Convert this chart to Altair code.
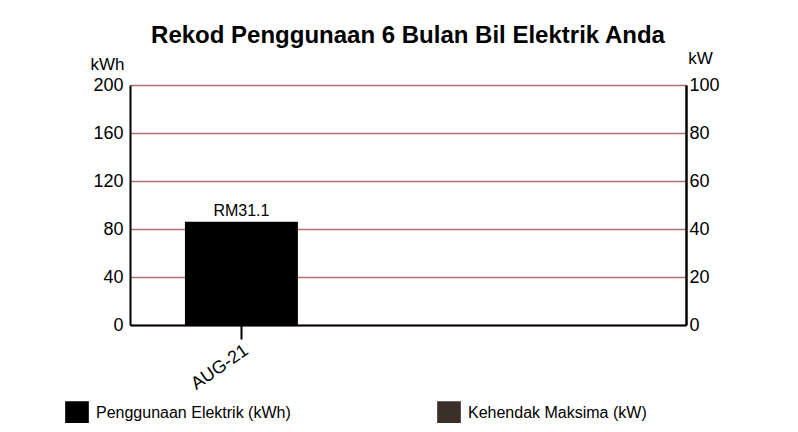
import altair as alt
import pandas as pd

# ---- data ----
months = ["AUG-21"]
kwh_values = [86]
bill_labels = ["RM31.1"]
kw_values = [0]
series_names = ["Penggunaan Elektrik (kWh)", "Kehendak Maksima (kW)"]
series_colors = ["#000000", "#3a3029"]
kwh_ticks = [0, 40, 80, 120, 160, 200]
kw_ticks = [0, 20, 40, 60, 80, 100]

df = pd.DataFrame({"month": months, "kwh": kwh_values, "bill": bill_labels, "kw": kw_values})

FONT = "Liberation Sans"

x_enc = alt.X(
    "month:N", title=None, sort=months,
    scale=alt.Scale(domain=months, paddingInner=0.49, paddingOuter=1, align=0.124),
    axis=alt.Axis(labelAngle=325, labelAlign="right", labelBaseline="top",
                  labelFontSize=18, labelFont=FONT, labelColor="black", labelPadding=2,
                  tickSize=14, tickWidth=2, tickColor="black",
                  domainColor="black", domainWidth=2),
)

color_scale = alt.Scale(domain=series_names, range=series_colors)
legend = alt.Legend(
    title=None, orient="none", legendX=-65, legendY=316, direction="horizontal",
    symbolType="square", symbolSize=560, symbolStrokeWidth=0, symbolOpacity=1,
    labelFontSize=16, labelFont=FONT, labelColor="black", labelOffset=7,
    labelLimit=400, columnPadding=146,
)
color_enc = alt.Color("series:N", scale=color_scale, legend=legend)

kwh_axis = alt.Axis(values=kwh_ticks, title="kWh", titleAngle=0, titleX=-23, titleY=-16,
                    titleAlign="center", titleBaseline="alphabetic", titleFontSize=17,
                    titleFont=FONT, titleFontWeight="normal", titleColor="black",
                    labelFontSize=18, labelFont=FONT, labelColor="black",
                    tickSize=0, labelPadding=7, domainWidth=2, domainColor="black",
                    grid=True, gridColor="#b06e6e", gridWidth=1.5)
kwh_scale = alt.Scale(domain=[0, 200], nice=False)

base = alt.Chart(df)

kwh_bar = base.mark_bar().transform_calculate(
    series=f"'{series_names[0]}'"
).encode(
    x=x_enc,
    y=alt.Y("kwh:Q", scale=kwh_scale, axis=kwh_axis),
    color=color_enc,
)

bill_text = base.mark_text(dy=-3, baseline="bottom", fontSize=16, font=FONT, color="black").encode(
    x=x_enc,
    y=alt.Y("kwh:Q", scale=kwh_scale, axis=kwh_axis),
    text="bill:N",
)

kw_bar = base.mark_bar().transform_calculate(
    series=f"'{series_names[1]}'"
).encode(
    x=x_enc,
    y=alt.Y("kw:Q", scale=alt.Scale(domain=[0, 100], nice=False),
            axis=alt.Axis(values=kw_ticks, orient="right", title="kW", titleAngle=0,
                          titleX=14, titleY=-22, titleAlign="center", titleBaseline="alphabetic",
                          titleFontSize=17, titleFont=FONT, titleFontWeight="normal",
                          titleColor="black", labelFontSize=18, labelFont=FONT,
                          labelColor="black", tickSize=0, labelPadding=3,
                          domainWidth=2.5, domainColor="black", grid=False)),
    color=color_enc,
)

left = alt.layer(kwh_bar, bill_text)

chart = alt.layer(left, kw_bar).resolve_scale(y="independent").properties(
    width=556, height=240,
    title=alt.TitleParams("Rekod Penggunaan 6 Bulan Bil Elektrik Anda", fontSize=24, font=FONT,
                          fontWeight="bold", anchor="middle", color="black", offset=6, dy=5),
    padding={"left": 122, "top": 77, "right": 104, "bottom": 98},
    autosize="none",
).configure_view(strokeWidth=0, stroke="transparent").configure(background="white")

chart.save("out.html", embed_options={"renderer": "svg", "actions": False})
